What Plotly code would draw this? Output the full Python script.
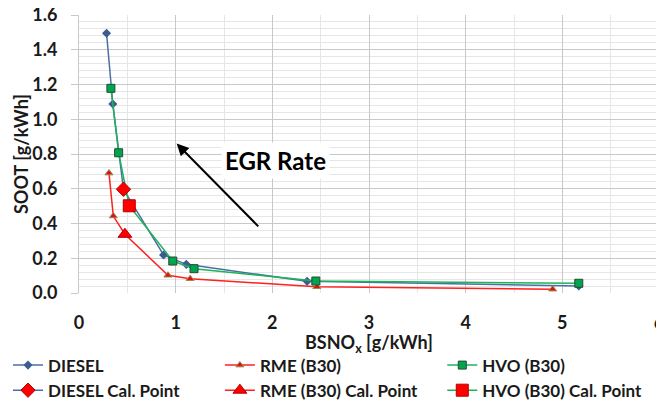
import plotly.graph_objects as go

# Data
diesel_x = [0.285, 0.35, 0.46, 0.875, 1.11, 2.36, 5.17]
diesel_y = [1.495, 1.088, 0.597, 0.219, 0.165, 0.067, 0.040]
rme_x = [0.31, 0.355, 0.475, 0.92, 1.15, 2.46, 4.90]
rme_y = [0.69, 0.443, 0.338, 0.102, 0.082, 0.036, 0.022]
hvo_x = [0.33, 0.41, 0.52, 0.97, 1.19, 2.45, 5.17]
hvo_y = [1.178, 0.807, 0.502, 0.184, 0.140, 0.069, 0.056]
diesel_cal_x = [0.46]
diesel_cal_y = [0.597]
rme_cal_x = [0.475]
rme_cal_y = [0.338]
hvo_cal_x = [0.52]
hvo_cal_y = [0.502]

x_ticks = [0, 1, 2, 3, 4, 5, 6]
y_ticks = [0.0, 0.2, 0.4, 0.6, 0.8, 1.0, 1.2, 1.4, 1.6]
x_title = "BSNO<sub>x</sub> [g/kWh]"
y_title = "SOOT [g/kWh]"

FONT = "Lato"
TXT = "#1a1a1a"
BLUE = "#4A6FA5"
RED = "#FF2020"
GREEN = "#1DB35A"

fig = go.Figure()
fig.add_trace(go.Scatter(x=diesel_x, y=diesel_y, name="DIESEL", mode="lines+markers",
                         legend="legend",
                         line=dict(color=BLUE, width=1.5),
                         marker=dict(symbol="diamond", size=7, color="#3B5E8F")))
fig.add_trace(go.Scatter(x=rme_x, y=rme_y, name="RME (B30)", mode="lines+markers",
                         legend="legend2",
                         line=dict(color=RED, width=1.5),
                         marker=dict(symbol="triangle-up", size=7, color="#E01010",
                                     line=dict(color="#9A8A50", width=1))))
fig.add_trace(go.Scatter(x=hvo_x, y=hvo_y, name="HVO (B30)", mode="lines+markers",
                         legend="legend3",
                         line=dict(color=GREEN, width=1.5),
                         marker=dict(symbol="square", size=8, color="#00A550",
                                     line=dict(color="#2A4A30", width=1))))
fig.add_trace(go.Scatter(x=diesel_cal_x, y=diesel_cal_y, name="DIESEL Cal. Point", mode="lines+markers",
                         legend="legend",
                         line=dict(color=BLUE, width=1.5),
                         marker=dict(symbol="diamond", size=11, color="#FF0000",
                                     line=dict(color="#B00000", width=1))))
fig.add_trace(go.Scatter(x=rme_cal_x, y=rme_cal_y, name="RME (B30) Cal. Point", mode="lines+markers",
                         legend="legend2",
                         line=dict(color=RED, width=1.5),
                         marker=dict(symbol="triangle-up", size=12, color="#FF0000",
                                     line=dict(color="#B00000", width=1))))
fig.add_trace(go.Scatter(x=hvo_cal_x, y=hvo_cal_y, name="HVO (B30) Cal. Point", mode="lines+markers",
                         legend="legend3",
                         line=dict(color=GREEN, width=1.5),
                         marker=dict(symbol="square", size=12, color="#FF0000",
                                     line=dict(color="#B00000", width=1))))

fig.add_annotation(x=1.01, y=0.86, ax=1.87, ay=0.375, xref="x", yref="y", axref="x", ayref="y",
                   text="", showarrow=True, arrowhead=2, arrowsize=1.2, arrowwidth=2, arrowcolor="black")
fig.add_annotation(x=2.03, y=0.765, xref="x", yref="y", text="EGR Rate", showarrow=False,
                   font=dict(family=FONT, size=24, color="black", weight="bold"),
                   bgcolor="white", borderpad=3)
# axis titles
fig.add_annotation(x=0.5, y=-0.18, xref="paper", yref="paper", text=x_title, showarrow=False,
                   xanchor="center", yanchor="middle",
                   font=dict(family=FONT, size=18, color=TXT, weight="bold"))
fig.add_annotation(x=-0.1, y=0.5, xref="paper", yref="paper", text=y_title, showarrow=False,
                   textangle=-90, xanchor="center", yanchor="middle",
                   font=dict(family=FONT, size=18, color=TXT, weight="bold"))

leg_common = dict(orientation="v", xref="container", yref="container", y=0.136,
                  xanchor="left", yanchor="top", bgcolor="rgba(0,0,0,0)",
                  font=dict(family=FONT, size=17, color=TXT, weight="bold"),
                  traceorder="normal", tracegroupgap=0)

# page body has an 8px default margin -> figure is 656x393 so it fills the 664x401 window
fig.update_layout(
    width=656, height=393,
    margin=dict(l=71, r=5, t=7, b=108, autoexpand=False),
    plot_bgcolor="white", paper_bgcolor="white",
    font=dict(family=FONT, size=16, color=TXT),
    showlegend=True,
    legend=dict(x=0.0, **leg_common),
    legend2=dict(x=0.323, **leg_common),
    legend3=dict(x=0.662, **leg_common),
)
fig.update_xaxes(range=[0, 6], tickvals=x_ticks, ticktext=[str(v) for v in x_ticks],
                 automargin=False, ticklabeloverflow="allow",
                 showgrid=True, gridcolor="#C8C8C8", gridwidth=1,
                 minor=dict(dtick=0.5, showgrid=True, gridcolor="#E6E6E6", gridwidth=1),
                 zeroline=False, showline=False, ticks="", ticklabelstandoff=17,
                 tickfont=dict(family=FONT, size=18, weight="bold", color=TXT))
fig.update_yaxes(range=[0, 1.6], tickvals=y_ticks, ticktext=[f"{v:.1f}" for v in y_ticks],
                 automargin=False, ticklabeloverflow="allow",
                 showgrid=True, gridcolor="#C8C8C8", gridwidth=1,
                 minor=dict(dtick=0.04, showgrid=True, gridcolor="#E6E6E6", gridwidth=1),
                 zeroline=False, showline=True, linecolor="#C8C8C8",
                 ticks="outside", ticklen=7, tickcolor="#C8C8C8", ticklabelstandoff=10,
                 tickfont=dict(family=FONT, size=18, weight="bold", color=TXT))

fig.write_html("out.html")
